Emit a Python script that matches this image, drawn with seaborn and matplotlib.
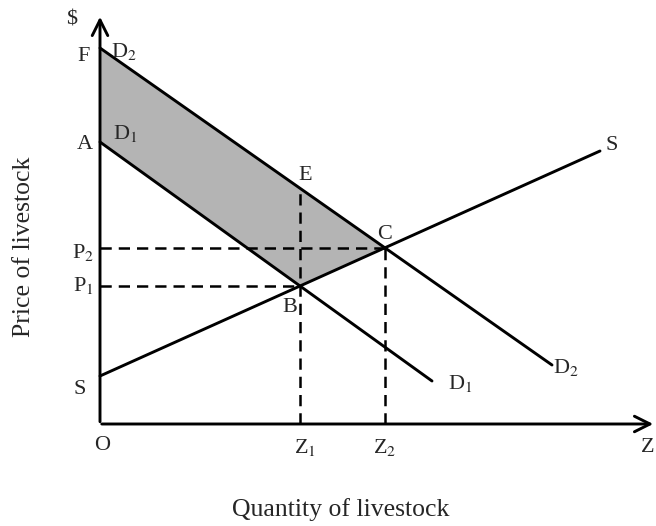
import matplotlib
matplotlib.use("Agg")
import matplotlib.pyplot as plt
import seaborn as sns
import pandas as pd

# curves: end points as (quantity, price)
d1_q = [0, 33.2]
d1_p = [28.2, 4.3]
d2_q = [0, 45.2]
d2_p = [37.6, 5.9]
s_q = [0, 50.0]
s_p = [4.8, 27.3]

# key points
point_B = (20.0, 13.8)
point_C = (28.5, 17.6)
point_E = (20.0, 23.56)
point_F = (0, 37.6)
point_A = (0, 28.2)

sns.set_style("white")
plt.rcParams['font.family'] = ['Liberation Serif', 'DejaVu Serif']
plt.rcParams['mathtext.fontset'] = 'stix'

fig = plt.figure(figsize=(6.56, 5.26), dpi=100)
ax = fig.add_axes([0, 0, 1, 1])
ax.set_xlim(-10, 55.6)
ax.set_ylim(-10.2, 42.4)
ax.axis('off')

# shaded area between the two demand curves above supply
poly_x = [point_F[0], point_C[0], point_B[0], point_A[0]]
poly_y = [point_F[1], point_C[1], point_B[1], point_A[1]]
ax.fill(poly_x, poly_y, color='#b4b4b4', zorder=1, lw=0)

# curves
curves = pd.concat([
    pd.DataFrame({'q': d1_q, 'p': d1_p, 'curve': 'D1'}),
    pd.DataFrame({'q': d2_q, 'p': d2_p, 'curve': 'D2'}),
    pd.DataFrame({'q': s_q, 'p': s_p, 'curve': 'S'}),
])
sns.lineplot(data=curves, x='q', y='p', units='curve', estimator=None,
             color='black', lw=2.1, ax=ax, zorder=3, sort=False)

# dashed guide lines
dash = dict(color='black', lw=1.8, ls=(0, (4.5, 2.8)), zorder=2)
ax.plot([0, point_C[0]], [point_C[1], point_C[1]], **dash)
ax.plot([0, point_B[0]], [point_B[1], point_B[1]], **dash)
ax.plot([point_B[0], point_B[0]], [0, point_E[1]], **dash)
ax.plot([point_C[0], point_C[0]], [0, point_C[1]], **dash)

# axes with arrows
arrow = dict(arrowstyle='->', lw=2.1, color='black', mutation_scale=28)
ax.annotate('', xy=(0, 41.0), xytext=(0, -0.05), arrowprops=arrow)
ax.annotate('', xy=(55.6, 0), xytext=(-0.1, 0), arrowprops=arrow)

fs = 16
labels = [
    ('$', -2.8, 40.4), ('F', -1.6, 36.7), ('A', -1.5, 27.9),
    ('P$_2$', -1.7, 17.1), ('P$_1$', -1.7, 13.8), ('S', -2.0, 3.5),
    ('O', 0.2, -2.2), ('Z$_1$', 20.5, -2.4), ('Z$_2$', 28.5, -2.4),
    ('D$_2$', 2.4, 37.2), ('D$_1$', 2.5, 29.0), ('E', 20.5, 24.8),
    ('C', 28.5, 18.9), ('B', 19.0, 11.6), ('S', 51.2, 27.8),
    ('D$_1$', 36.0, 4.1), ('D$_2$', 46.6, 5.6),
]
for txt, x, y in labels:
    if txt == '$':
        txt = r'\$'
    ax.text(x, y, txt, fontsize=fs, ha='center', va='center', zorder=4)
ax.text(54.1, -2.4, 'Z', fontsize=fs, ha='left', va='center')

ax.text(24.1, -8.6, 'Quantity of livestock', fontsize=18.5, ha='center', va='center')
ax.text(-7.6, 17.7, 'Price of livestock', fontsize=18.5, ha='center', va='center',
        rotation=90)

fig.savefig('out.png', dpi=100)
